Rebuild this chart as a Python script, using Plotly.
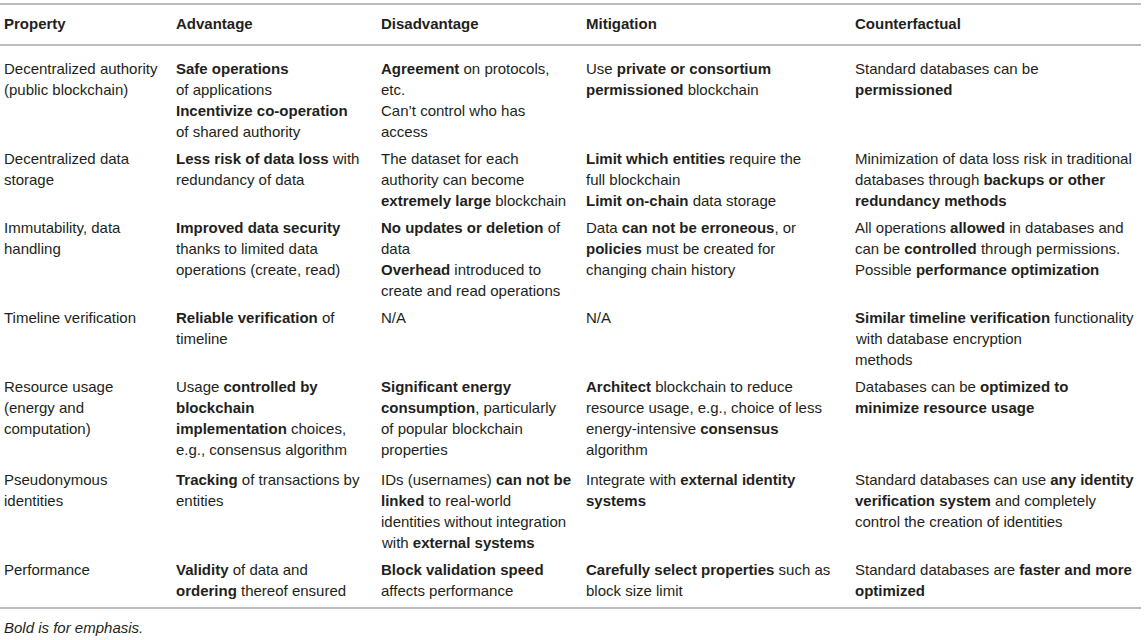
import plotly.graph_objects as go

headers = ["Property", "Advantage", "Disadvantage", "Mitigation", "Counterfactual"]

prop = [
    ["Decentralized authority", "(public blockchain)"],
    ["Decentralized data", "storage"],
    ["Immutability, data", "handling"],
    ["Timeline verification"],
    ["Resource usage", "(energy and", "computation)"],
    ["Pseudonymous", "identities"],
    ["Performance"],
]

advantage = [
    ["<b>Safe operations</b>", "of applications", "<b>Incentivize co-operation</b>", "of shared authority"],
    ["<b>Less risk of data loss</b> with", "redundancy of data"],
    ["<b>Improved data security</b>", "thanks to limited data", "operations (create, read)"],
    ["<b>Reliable verification</b> of", "timeline"],
    ["Usage <b>controlled by</b>", "<b>blockchain</b>", "<b>implementation</b> choices,", "e.g., consensus algorithm"],
    ["<b>Tracking</b> of transactions by", "entities"],
    ["<b>Validity</b> of data and", "<b>ordering</b> thereof ensured"],
]

disadvantage = [
    ["<b>Agreement</b> on protocols,", "etc.", "Can\u2019t control who has", "access"],
    ["The dataset for each", "authority can become", "<b>extremely large</b> blockchain"],
    ["<b>No updates or deletion</b> of", "data", "<b>Overhead</b> introduced to", "create and read operations"],
    ["N/A"],
    ["<b>Significant energy</b>", "<b>consumption</b>, particularly", "of popular blockchain", "properties"],
    ["IDs (usernames) <b>can not be</b>", "<b>linked</b> to real-world", "identities without integration", "with <b>external systems</b>"],
    ["<b>Block validation speed</b>", "affects performance"],
]

mitigation = [
    ["Use <b>private or consortium</b>", "<b>permissioned</b> blockchain"],
    ["<b>Limit which entities</b> require the", "full blockchain", "<b>Limit on-chain</b> data storage"],
    ["Data <b>can not be erroneous</b>, or", "<b>policies</b> must be created for", "changing chain history"],
    ["N/A"],
    ["<b>Architect</b> blockchain to reduce", "resource usage, e.g., choice of less", "energy-intensive <b>consensus</b>", "algorithm"],
    ["Integrate with <b>external identity</b>", "<b>systems</b>"],
    ["<b>Carefully select properties</b> such as", "block size limit"],
]

counterfactual = [
    ["Standard databases can be", "<b>permissioned</b>"],
    ["Minimization of data loss risk in traditional", "databases through <b>backups or other</b>", "<b>redundancy methods</b>"],
    ["All operations <b>allowed</b> in databases and", "can be <b>controlled</b> through permissions.", "Possible <b>performance optimization</b>"],
    ["<b>Similar timeline verification</b> functionality", "with database encryption", "methods"],
    ["Databases can be <b>optimized to</b>", "<b>minimize resource usage</b>"],
    ["Standard databases can use <b>any identity</b>", "<b>verification system</b> and completely", "control the creation of identities"],
    ["Standard databases are <b>faster and more</b>", "<b>optimized</b>"],
]

footnote = "<i>Bold is for emphasis.</i>"

# layout (pixel positions)
W, H = 1145, 640
col_x = [4, 176, 381, 586, 855]
header_y = 23
row_y = [68, 158, 227, 317, 386, 479, 569]
line_h = 21
rule_y = [4, 45, 608]
footnote_y = 627

TEXT = "#231f20"
FONT = "Liberation Sans, Arial, sans-serif"
FS = 15

fig = go.Figure()
annotations = []


def add_text(x, y, s):
    annotations.append(dict(
        x=x, y=y, xref="x", yref="y", text=s, showarrow=False,
        xanchor="left", yanchor="middle", align="left",
        font=dict(family=FONT, size=FS, color=TEXT),
        borderpad=0, borderwidth=0,
    ))


for x, h in zip(col_x, headers):
    add_text(x, header_y, "<b>" + h + "</b>")

columns = [prop, advantage, disadvantage, mitigation, counterfactual]
for ci, col in enumerate(columns):
    for ri, cell in enumerate(col):
        for li, line in enumerate(cell):
            add_text(col_x[ci], row_y[ri] + li * line_h, line)

add_text(col_x[0], footnote_y, footnote)

shapes = [dict(type="line", xref="x", yref="y", x0=0, x1=1141, y0=y, y1=y,
               line=dict(color="#bdbdbd", width=2)) for y in rule_y]

fig.update_layout(
    width=W, height=H,
    margin=dict(l=0, r=0, t=0, b=0),
    paper_bgcolor="white", plot_bgcolor="white",
    xaxis=dict(range=[0, W], visible=False, fixedrange=True),
    yaxis=dict(range=[H, 0], visible=False, fixedrange=True),
    annotations=annotations, shapes=shapes, showlegend=False,
)

fig.write_html(
    "out.html",
    config={"displayModeBar": False},
    post_script="document.body.style.margin='0';document.body.style.overflow='hidden';",
)
